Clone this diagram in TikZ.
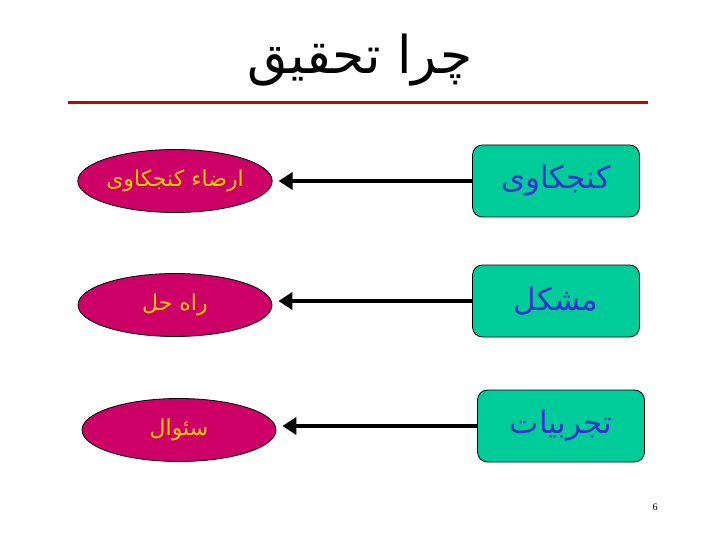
\documentclass[tikz,border=0pt]{standalone}
\usepackage{fontspec}
\usetikzlibrary{shapes.geometric,arrows.meta}
\TeXXeTstate=1
\newfontfamily\arabicfont[Script=Arabic]{DejaVu Sans}
\setmainfont{Liberation Serif}
\definecolor{boxgreen}{HTML}{00CC99}
\definecolor{ellmag}{HTML}{CC0066}
\definecolor{txtblue}{HTML}{3333CC}
\definecolor{txtyel}{HTML}{FFCC00}
\definecolor{rulered}{HTML}{CC0000}
\tikzset{
  srcbox/.style={draw=black, line width=0.8pt, fill=boxgreen, rounded corners=10pt,
    minimum width=167pt, minimum height=72pt, inner sep=0pt,
    text=txtblue, font=\arabicfont\fontsize{31}{36}\selectfont},
  tgtell/.style={ellipse, draw=black, line width=0.8pt, fill=ellmag,
    minimum width=194pt, minimum height=63pt, inner sep=0pt,
    text=txtyel, font=\arabicfont\fontsize{22}{26}\selectfont},
  flow/.style={line width=4pt, -{Triangle[length=14pt,width=17pt]}, shorten >=6pt}
}
\begin{document}
\begin{tikzpicture}[x=1pt,y=-1pt]
\useasboundingbox (0,0) rectangle (720,540);
\fill[white] (0,0) rectangle (720,540);
\node[font=\arabicfont\fontsize{52}{60}\selectfont] (title) at (360,60) {\beginR چرا تحقیق\endR};
\draw[rulered, line width=3pt] (68,103) -- (648,103);
\node[srcbox] (b1) at (556,181) {\beginR کنجکاوی\endR};
\node[srcbox] (b2) at (556,301) {\beginR مشکل\endR};
\node[srcbox] (b3) at (561,426) {\beginR تجربیات\endR};
\node[tgtell] (e1) at (175,181) {\beginR ارضاء کنجکاوی\endR};
\node[tgtell] (e2) at (175,305) {\beginR راه حل\endR};
\node[tgtell] (e3) at (179,430) {\beginR سئوال\endR};
\draw[flow] (b1.west) -- (e1.east |- b1.west);
\draw[flow] (b2.west) -- (e2.east |- b2.west);
\draw[flow] (b3.west) -- (e3.east |- b3.west);
\node[font=\fontsize{10}{12}\selectfont] (pg) at (655,507) {6};
\end{tikzpicture}
\end{document}
